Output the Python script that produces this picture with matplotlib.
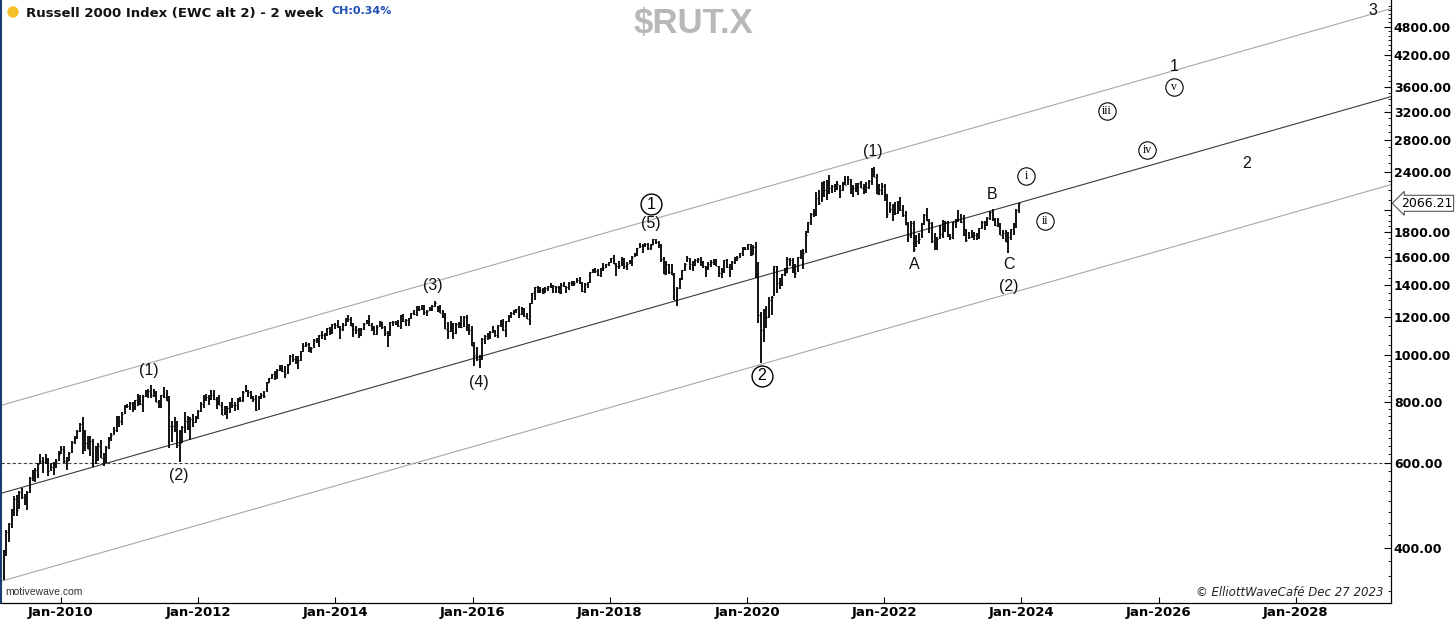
# Russell 2000 ($RUT.X) 2-week bars with Elliott wave count and channel

import numpy as np
import pandas as pd
import matplotlib
matplotlib.use('Agg')
import matplotlib.pyplot as plt
from matplotlib.patches import Ellipse
from matplotlib.ticker import FixedLocator, NullFormatter

# --- DATA: 2-week HLC bars, first bar starts 2009-03-02 ---
bar_high = [
    395, 435, 450, 480, 512, 513, 525, 532, 516, 525, 560, 578, 584, 598, 625, 617, 625, 612, 600, 602, 610, 635,  # 2009
    650, 650, 615, 630, 665, 680, 700, 725, 746, 700, 680, 680, 670, 650, 658, 668, 628, 650, 679, 690, 710, 748, 750, 762, 790, 795,  # 2010
    800, 800, 810, 831, 829, 830, 849, 852, 868, 852, 843, 808, 828, 859, 848, 825, 732, 745, 730, 700, 715, 765, 750, 745, 755, 749,  # 2011
    770, 800, 830, 832, 830, 847, 847, 820, 830, 800, 785, 785, 800, 815, 800, 815, 820, 842, 868, 848, 846, 825, 830, 823, 835, 845,  # 2012
    880, 900, 915, 930, 937, 955, 954, 950, 960, 1001, 1008, 995, 999, 1022, 1063, 1065, 1060, 1040, 1083, 1085, 1105, 1122, 1115, 1142, 1145, 1164,  # 2013
    1165, 1182, 1150, 1165, 1195, 1212, 1200, 1165, 1150, 1140, 1140, 1170, 1185, 1213, 1165, 1150, 1155, 1180, 1175, 1150, 1125, 1175, 1180, 1180, 1185, 1215,  # 2014
    1220, 1190, 1195, 1225, 1240, 1268, 1265, 1275, 1272, 1245, 1260, 1270, 1296, 1265, 1275, 1245, 1225, 1175, 1180, 1165, 1165, 1175, 1205, 1205, 1210, 1160,  # 2015
    1150, 1065, 1040, 1000, 1085, 1100, 1115, 1125, 1150, 1130, 1155, 1185, 1190, 1180, 1215, 1230, 1245, 1248, 1264, 1260, 1255, 1225, 1285, 1348, 1388, 1392,  # 2016
    1385, 1380, 1385, 1395, 1415, 1400, 1390, 1395, 1410, 1420, 1395, 1420, 1425, 1425, 1450, 1451, 1420, 1410, 1420, 1491, 1510, 1515, 1510, 1520, 1555, 1550,  # 2017
    1560, 1590, 1618, 1555, 1570, 1597, 1595, 1560, 1580, 1605, 1630, 1670, 1708, 1700, 1710, 1710, 1700, 1742, 1740, 1725, 1700, 1600, 1570, 1550, 1550, 1480,  # 2018
    1385, 1450, 1505, 1555, 1608, 1590, 1570, 1585, 1590, 1600, 1570, 1530, 1560, 1575, 1585, 1587, 1530, 1520, 1580, 1585, 1545, 1570, 1600, 1605, 1630, 1675,  # 2019
    1678, 1700, 1705, 1690, 1716, 1560, 1230, 1250, 1265, 1320, 1330, 1530, 1535, 1450, 1475, 1515, 1600, 1590, 1590, 1545, 1600, 1650, 1660, 1810, 1892, 1970,  # 2020
    2010, 2185, 2200, 2285, 2300, 2305, 2360, 2260, 2270, 2300, 2250, 2290, 2350, 2355, 2320, 2260, 2275, 2280, 2300, 2270, 2285, 2310, 2440, 2459, 2380, 2265,  # 2021
    2275, 2270, 2160, 2075, 2060, 2075, 2090, 2133, 2050, 1990, 1890, 1900, 1900, 1780, 1790, 1885, 1960, 2021, 1920, 1890, 1790, 1760, 1860, 1910, 1895, 1895,  # 2022
    1785, 1890, 1915, 2001, 1960, 1950, 1830, 1800, 1815, 1800, 1790, 1840, 1900, 1895, 1935, 1990, 2007, 1925, 1925, 1885, 1815, 1815, 1800, 1830, 1880, 2015, 2073,  # 2023
]
bar_low = [
    343, 385, 410, 440, 466, 465, 480, 505, 491, 478, 520, 550, 548, 556, 595, 570, 595, 562, 575, 565, 585, 605,
    625, 600, 580, 605, 627, 656, 670, 695, 625, 634, 640, 620, 588, 596, 605, 612, 590, 598, 640, 665, 685, 695, 710, 716, 755, 778,
    771, 763, 770, 786, 790, 764, 820, 816, 818, 822, 800, 777, 778, 818, 803, 643, 663, 693, 643, 601, 660, 690, 700, 667, 712, 725,
    737, 765, 780, 805, 788, 810, 810, 776, 790, 752, 752, 737, 760, 780, 768, 770, 800, 800, 838, 820, 812, 800, 767, 770, 811, 815,
    840, 875, 894, 890, 895, 930, 925, 897, 915, 955, 970, 960, 938, 975, 1017, 1040, 1015, 1010, 1038, 1060, 1043, 1083, 1076, 1095, 1105, 1110,
    1135, 1140, 1082, 1125, 1150, 1175, 1150, 1092, 1110, 1085, 1095, 1130, 1160, 1150, 1125, 1101, 1105, 1145, 1135, 1095, 1040, 1095, 1150, 1155, 1145, 1135,
    1175, 1150, 1150, 1190, 1215, 1205, 1235, 1245, 1215, 1207, 1235, 1235, 1260, 1230, 1225, 1195, 1135, 1081, 1120, 1083, 1110, 1140, 1140, 1145, 1125, 1100,
    1045, 953, 975, 943, 980, 1055, 1075, 1080, 1115, 1090, 1085, 1145, 1125, 1090, 1175, 1195, 1215, 1225, 1195, 1215, 1200, 1190, 1156, 1280, 1300, 1350,
    1350, 1340, 1345, 1358, 1380, 1345, 1345, 1345, 1342, 1385, 1345, 1365, 1390, 1395, 1410, 1405, 1356, 1345, 1380, 1415, 1485, 1480, 1460, 1455, 1495, 1515,
    1530, 1555, 1545, 1463, 1510, 1535, 1510, 1502, 1545, 1535, 1600, 1605, 1670, 1630, 1680, 1650, 1655, 1690, 1705, 1670, 1560, 1475, 1470, 1475, 1465, 1300,
    1266, 1375, 1430, 1495, 1560, 1505, 1495, 1530, 1555, 1530, 1515, 1452, 1505, 1525, 1540, 1530, 1456, 1450, 1480, 1515, 1455, 1505, 1550, 1570, 1590, 1610,
    1655, 1650, 1610, 1615, 1450, 1170, 966, 1065, 1140, 1195, 1210, 1325, 1350, 1375, 1390, 1460, 1480, 1535, 1480, 1450, 1490, 1585, 1510, 1630, 1790, 1860,
    1935, 1945, 2050, 2080, 2130, 2095, 2165, 2175, 2180, 2200, 2120, 2190, 2260, 2260, 2160, 2130, 2180, 2150, 2220, 2160, 2170, 2210, 2250, 2340, 2160, 2150,
    2150, 2085, 1931, 1975, 1900, 1955, 1960, 1990, 1940, 1860, 1715, 1750, 1641, 1680, 1700, 1755, 1860, 1895, 1790, 1710, 1655, 1650, 1740, 1755, 1800, 1760,
    1735, 1740, 1835, 1890, 1880, 1770, 1714, 1740, 1755, 1733, 1735, 1740, 1830, 1820, 1850, 1905, 1900, 1850, 1845, 1775, 1745, 1715, 1633, 1735, 1780, 1840, 1975,
]
bar_close = [
    393, 431, 448, 470, 505, 478, 521, 510, 494, 522, 557, 564, 578, 595, 603, 601, 605, 575, 586, 595, 605, 625,
    640, 603, 605, 628, 663, 675, 698, 722, 653, 660, 641, 665, 598, 617, 650, 614, 610, 645, 676, 685, 702, 745, 730, 758, 785, 784,
    796, 770, 807, 814, 795, 823, 843, 842, 827, 832, 802, 791, 827, 820, 803, 715, 714, 700, 652, 660, 710, 730, 712, 740, 728, 741,
    766, 794, 817, 822, 812, 830, 812, 804, 791, 753, 755, 779, 798, 790, 790, 812, 808, 840, 850, 838, 823, 812, 770, 822, 827, 825,
    878, 898, 914, 911, 935, 942, 928, 915, 957, 999, 984, 973, 978, 1020, 1045, 1055, 1033, 1038, 1078, 1075, 1105, 1100, 1113, 1142, 1118, 1160,
    1156, 1143, 1132, 1155, 1192, 1190, 1151, 1132, 1129, 1103, 1134, 1164, 1184, 1154, 1140, 1109, 1148, 1176, 1145, 1115, 1100, 1174, 1173, 1173, 1152, 1210,
    1180, 1185, 1195, 1223, 1218, 1263, 1250, 1255, 1229, 1238, 1247, 1266, 1283, 1254, 1226, 1200, 1136, 1125, 1162, 1115, 1160, 1162, 1143, 1199, 1127, 1130,
    1046, 1000, 985, 995, 1080, 1095, 1105, 1120, 1130, 1105, 1155, 1163, 1128, 1177, 1209, 1226, 1240, 1247, 1220, 1251, 1205, 1190, 1282, 1347, 1388, 1370,
    1368, 1350, 1377, 1394, 1388, 1393, 1385, 1345, 1400, 1390, 1383, 1415, 1415, 1415, 1435, 1415, 1358, 1409, 1415, 1490, 1505, 1497, 1470, 1520, 1520, 1545,
    1560, 1590, 1547, 1532, 1535, 1585, 1530, 1545, 1563, 1602, 1626, 1668, 1685, 1695, 1702, 1670, 1690, 1740, 1715, 1696, 1585, 1477, 1550, 1490, 1470, 1305,
    1380, 1450, 1503, 1545, 1590, 1550, 1540, 1580, 1585, 1565, 1530, 1515, 1550, 1560, 1550, 1535, 1480, 1495, 1578, 1525, 1520, 1560, 1598, 1590, 1630, 1670,
    1660, 1700, 1615, 1680, 1476, 1210, 1130, 1245, 1200, 1300, 1320, 1530, 1415, 1425, 1475, 1480, 1585, 1580, 1500, 1485, 1600, 1640, 1630, 1780, 1892, 1960,
    1975, 2123, 2073, 2280, 2200, 2300, 2220, 2245, 2265, 2270, 2200, 2285, 2260, 2315, 2165, 2225, 2235, 2275, 2225, 2250, 2235, 2300, 2435, 2345, 2165, 2200,
    2245, 2160, 1965, 2010, 2050, 1975, 2075, 2000, 1950, 1860, 1775, 1885, 1665, 1730, 1745, 1885, 1955, 1900, 1880, 1725, 1705, 1740, 1785, 1840, 1890, 1765,
    1761, 1887, 1903, 1918, 1890, 1773, 1735, 1760, 1790, 1775, 1775, 1835, 1890, 1888, 1922, 1985, 1925, 1865, 1850, 1776, 1790, 1715, 1760, 1825, 1875, 2005, 2066.21,
]

# channel (straight on log scale), end points at chart edges
channel_dates = ['2009-02-16', '2029-05-21']
channel_mid = [518, 3437]
channel_upper = [788, 5230]
channel_lower = [340.5, 2259]

# wave labels: text, date, price
plain_text = ['(1)', '(2)', '(3)', '(4)', '(5)', '(1)', 'A', 'B', 'C', '(2)', '1', '2', '3']
plain_date = ['2011-04-14', '2011-09-21', '2015-06-03', '2016-02-04', '2018-08-08', '2021-11-01',
              '2022-06-07', '2023-07-28', '2023-10-26', '2023-10-26', '2026-03-23', '2027-04-15', '2029-02-14']
plain_price = [929, 563, 1393, 881, 1873, 2640, 1540, 2160, 1540, 1387, 3960, 2504, 5195]

big_circ_text = ['1', '2']
big_circ_date = ['2018-08-08', '2020-03-20']
big_circ_price = [2059, 907]

roman_text = ['i', 'ii', 'iii', 'iv', 'v']
roman_date = ['2024-01-25', '2024-05-05', '2025-03-31', '2025-10-30', '2026-03-23']
roman_price = [2355, 1900, 3210, 2666, 3599]

price_ticks = [400, 600, 800, 1000, 1200, 1400, 1600, 1800, 2000, 2400, 2800, 3200, 3600, 4200, 4800]
year_ticks = [2010, 2012, 2014, 2016, 2018, 2020, 2022, 2024, 2026, 2028]

# --- PLOT ---
W, H = 1456, 624
fig = plt.figure(figsize=(W / 100, H / 100), dpi=100)
ax = fig.add_axes([1 / W, 1 - 603 / H, 1390 / W, 603 / H])
ax.set_yscale('log')
ax.set_ylim(307, 5450)
ax.set_xlim(pd.Timestamp('2009-02-16'), pd.Timestamp('2029-05-21'))

dates = pd.date_range('2009-03-02', periods=len(bar_close), freq='14D')
ax.vlines(dates, bar_low, bar_high, color='black', lw=1.3, zorder=3)
ax.hlines(bar_close, dates, dates + pd.Timedelta(days=5), color='black', lw=0.9, zorder=3)

cd = pd.to_datetime(channel_dates)
ax.plot(cd, channel_mid, color='#3a3a3a', lw=0.8, zorder=2)
ax.plot(cd, channel_upper, color='#a8a8a8', lw=0.8, zorder=2)
ax.plot(cd, channel_lower, color='#a8a8a8', lw=0.8, zorder=2)
ax.axhline(600, color='#444444', lw=0.8, ls=(0, (3, 2)), zorder=1)

for t, d, p in zip(plain_text, plain_date, plain_price):
    ax.text(pd.Timestamp(d), p, t, ha='center', va='center', fontsize=11.5,
            family='Liberation Sans', color='#111111', zorder=5)

for t, d, p in zip(big_circ_text, big_circ_date, big_circ_price):
    ax.plot(pd.Timestamp(d), p, 'o', ms=15, mfc='white', mec='black', mew=1.0, zorder=5)
    ax.text(pd.Timestamp(d), p, t, ha='center', va='center', fontsize=11.5,
            family='Liberation Sans', zorder=6)

for t, d, p in zip(roman_text, roman_date, roman_price):
    ax.plot(pd.Timestamp(d), p, 'o', ms=12.5, mfc='white', mec='black', mew=0.8, zorder=5)
    ax.text(pd.Timestamp(d), p, t, ha='center', va='center', fontsize=8.5,
            family='Liberation Serif', zorder=6)

# axes styling
ax.spines['top'].set_visible(False)
ax.spines['left'].set_color('#1c3d73')
ax.spines['left'].set_linewidth(1.5)
ax.spines['right'].set_linewidth(0.9)
ax.spines['bottom'].set_linewidth(0.9)

ax.yaxis.tick_right()
ax.yaxis.set_major_locator(FixedLocator(price_ticks))
# the 2000 level sits under the last-price tag, so its label is left blank
ax.set_yticklabels(['' if v == 2000 else f'{v:.2f}' for v in price_ticks], fontweight='bold', fontsize=9)
minor = [v for v in list(range(325, 1000, 25)) + list(range(1000, 2000, 50)) + list(range(2000, 5400, 100))
         if v not in price_ticks]
ax.yaxis.set_minor_locator(FixedLocator(minor))
ax.yaxis.set_minor_formatter(NullFormatter())
ax.tick_params(axis='y', which='major', direction='in', length=5, width=0.8, pad=2)
ax.tick_params(axis='y', which='minor', direction='in', length=2.5, width=0.6)

ax.set_xticks([pd.Timestamp(f'{y}-01-01') for y in year_ticks])
ax.set_xticklabels([f'Jan-{y}' for y in year_ticks], fontweight='bold', fontsize=9.5)
ax.tick_params(axis='x', direction='in', length=4, width=0.8, pad=2)

# last price tag
ax.annotate(f'{bar_close[-1]:.2f}', xy=(1, bar_close[-1]), xycoords=ax.get_yaxis_transform(),
            xytext=(7, 0), textcoords='offset points', ha='left', va='center', fontsize=9,
            bbox=dict(boxstyle='larrow,pad=0.12', fc='white', ec='#555555', lw=0.8),
            annotation_clip=False, zorder=10)

# header / footer text
fig.add_artist(Ellipse((13 / W, 1 - 12 / H), 10 / W, 10 / H, transform=fig.transFigure, color='#f5c02a'))
fig.text(26 / W, 1 - 14 / H, 'Russell 2000 Index (EWC alt 2) - 2 week', fontsize=9.5,
         fontweight='bold', va='center', ha='left', color='#111111')
fig.text(331 / W, 1 - 11 / H, 'CH:0.34%', fontsize=8, fontweight='bold', va='center',
         ha='left', color='#1f4eb4')
fig.text(693 / W, 1 - 23 / H, r'\$RUT.X', fontsize=25, fontweight='bold', color='#b8b8b8',
         family='Liberation Sans', ha='center', va='center')
fig.text(5 / W, 1 - 592 / H, 'motivewave.com', fontsize=7.5, color='#333333',
         family='Liberation Sans', ha='left', va='center')
fig.text(1384 / W, 1 - 592 / H, '© ElliottWaveCafé Dec 27 2023', fontsize=8.5, style='italic',
         color='#222222', ha='right', va='center')

fig.savefig('out.png', dpi=100)
